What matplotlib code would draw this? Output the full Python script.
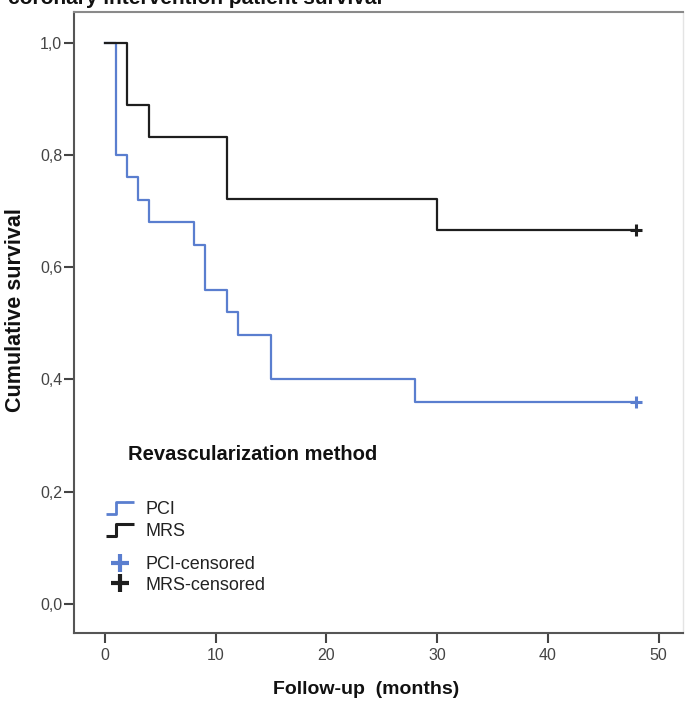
import matplotlib
matplotlib.use("Agg")
from matplotlib import pyplot as plt
from matplotlib.lines import Line2D
from matplotlib.path import Path
from matplotlib.ticker import FuncFormatter

plt.rcParams['font.family'] = ['Liberation Sans', 'DejaVu Sans']

# Kaplan-Meier steps
pci_months = [0, 1, 2, 3, 4, 8, 9, 11, 12, 15, 28, 48]
pci_survival = [1.0, 0.80, 0.76, 0.72, 0.68, 0.64, 0.56, 0.52, 0.48, 0.40, 0.36, 0.36]
mrs_months = [0, 2, 4, 11, 30, 48]
mrs_survival = [1.0, 0.889, 0.833, 0.722, 0.667, 0.667]
pci_censored = [48]
pci_censored_surv = [0.36]
mrs_censored = [48]
mrs_censored_surv = [0.667]

x_ticks = [0, 10, 20, 30, 40, 50]
y_ticks = [0.0, 0.2, 0.4, 0.6, 0.8, 1.0]

blue = "#5a7ecf"
black = "#1e1e1e"

fig = plt.figure(figsize=(6.88, 7.01), dpi=100)
ax = fig.add_axes([74/688, 1 - 633/701, 609/688, 621/701])

ax.step(pci_months, pci_survival, where="post", color=blue, lw=1.6)
ax.step(mrs_months, mrs_survival, where="post", color=black, lw=1.6)
ax.plot(pci_censored, pci_censored_surv, "+", color=blue, ms=8, mew=2.2)
ax.plot(mrs_censored, mrs_censored_surv, "+", color=black, ms=8, mew=2.2)

ax.set_xlim(-2.8, 52.2)
ax.set_ylim(-0.052, 1.055)
ax.set_xticks(x_ticks)
ax.set_yticks(y_ticks)
ax.yaxis.set_major_formatter(FuncFormatter(lambda v, p: f"{v:.1f}".replace(".", ",")))
ax.tick_params(axis="both", direction="out", length=7, width=1.5,
               color="#444444", labelcolor="#444444", labelsize=11.5)
ax.tick_params(axis="y", pad=1.5)
ax.tick_params(axis="x", pad=4)

for side in ["left", "bottom"]:
    ax.spines[side].set_color("#555555")
    ax.spines[side].set_linewidth(1.5)
ax.spines["top"].set_color("#8a8a8a")
ax.spines["top"].set_linewidth(1.5)
ax.spines["right"].set_color("#e4e4e4")
ax.spines["right"].set_linewidth(1.0)

ax.set_xlabel("Follow-up  (months)", fontsize=14, fontweight="bold", color="#111111")
ax.xaxis.set_label_coords(0.479, -0.078)
ax.set_ylabel("Cumulative survival", fontsize=15.5, fontweight="bold", color="#111111")
ax.yaxis.set_label_coords(-0.079, 0.52)

# cut-off title at the top edge
fig.text(8/688, 1 - 4/701, "coronary intervention patient survival",
         fontsize=15, fontweight="bold", va="baseline", ha="left", color="#111111")

# legend
step = Path([(-1.0, -0.45), (-0.3, -0.45), (-0.3, 0.45), (1.0, 0.45)])
ax.text((128 - 74)/609, (633 - 454)/621, "Revascularization method",
        transform=ax.transAxes, fontsize=14.5, fontweight="bold",
        va="center", ha="left", color="#111111")

line_handles = [
    Line2D([], [], ls="none", marker=step, ms=20, mfc="none", mec=blue, mew=2),
    Line2D([], [], ls="none", marker=step, ms=20, mfc="none", mec=black, mew=2.2),
]
leg1 = ax.legend(line_handles, ["PCI", "MRS"], loc="upper left",
                 bbox_to_anchor=((105 - 74)/609, (633 - 501)/621),
                 frameon=False, fontsize=13, handlelength=1.7, handletextpad=0.55,
                 labelspacing=0.28, borderpad=0, borderaxespad=0)
for t in leg1.get_texts():
    t.set_color("#222222")
ax.add_artist(leg1)

cens_handles = [
    Line2D([], [], ls="none", marker="+", ms=13, mec=blue, mew=3),
    Line2D([], [], ls="none", marker="+", ms=13, mec=black, mew=3),
]
leg2 = ax.legend(cens_handles, ["PCI-censored", "MRS-censored"], loc="upper left",
                 bbox_to_anchor=((105 - 74)/609, (633 - 556)/621),
                 frameon=False, fontsize=13, handlelength=1.7, handletextpad=0.55,
                 labelspacing=0.2, borderpad=0, borderaxespad=0)
for t in leg2.get_texts():
    t.set_color("#222222")

fig.savefig("out.png", dpi=100)
